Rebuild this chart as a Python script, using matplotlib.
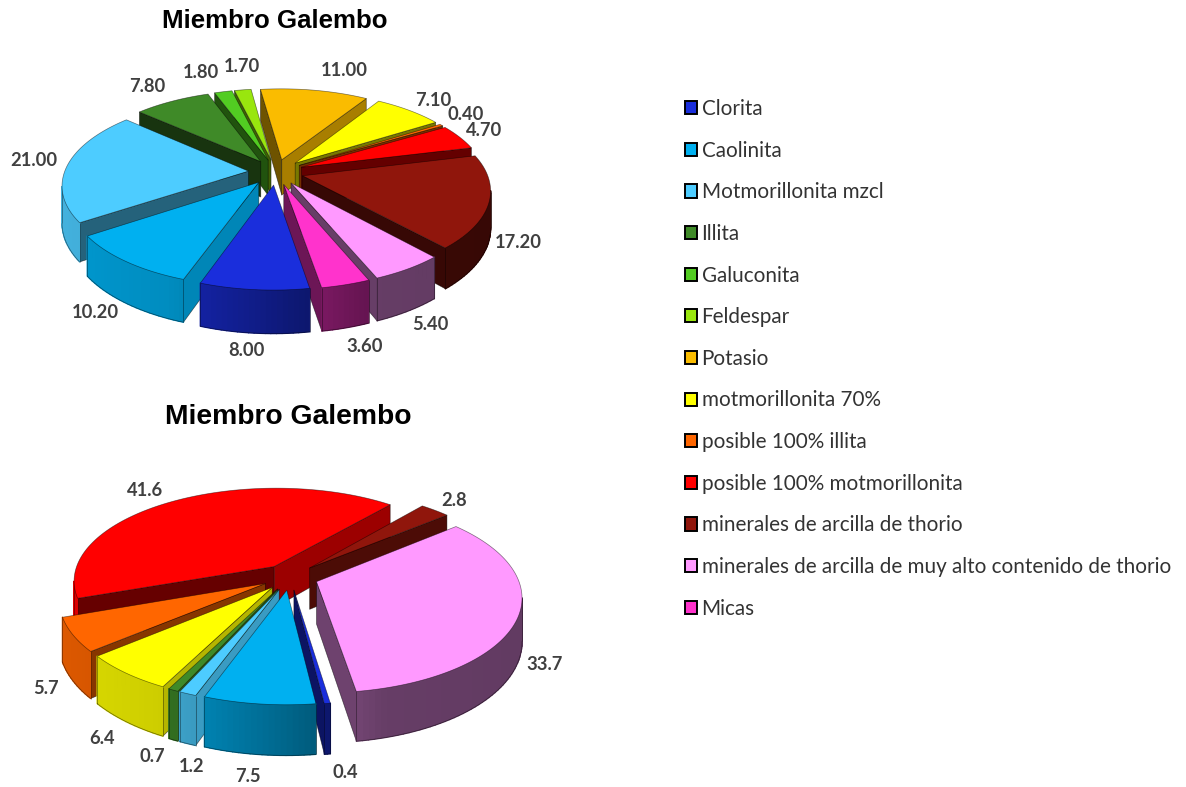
import numpy as np
import matplotlib
matplotlib.use("Agg")
import matplotlib.pyplot as plt
from matplotlib.patches import Polygon, Patch
from matplotlib.colors import to_rgb

# ---- data ----
minerals = ["Clorita", "Caolinita", "Motmorillonita mzcl", "Illita", "Galuconita",
            "Feldespar", "Potasio", "motmorillonita 70%", "posible 100% illita",
            "posible 100% motmorillonita", "minerales de arcilla de thorio",
            "minerales de arcilla de muy alto contenido de thorio", "Micas"]
colors = ["#1A2EDC", "#00B0F0", "#4DCCFF", "#3F8A28", "#52CC22", "#99E60E", "#FABC00",
          "#FFFF00", "#FF6600", "#FF0000", "#90160C", "#FF99FF", "#FF33CC"]
upper_values = [8.00, 10.20, 21.00, 7.80, 1.80, 1.70, 11.00, 7.10, 0.40, 4.70, 17.20, 5.40, 3.60]
lower_values = [0.4, 7.5, 1.2, 0.7, 0, 0, 0, 6.4, 5.7, 41.6, 2.8, 33.7, 0]
title = "Miembro Galembo"

# ---- layout (pixels) ----
upper_geom = dict(cx=276, cy=172, rx=184, ry=85, depth=36, start=170.5, explode=0.15)
lower_geom = dict(cx=290, cy=577, rx=201, ry=93, depth=42, start=171.5, explode=0.14)
upper_label_xy = [(246, 350), (95, 313), (34, 161), (147, 86), (201, 72), (242, 67), (344, 71),
                  (433, 100), (466, 115), (484, 131), (518, 243), (430, 325), (365, 346)]
lower_label_xy = [(345, 773), (248, 776), (192, 766), (152, 757), None, None, None,
                  (102, 738), (46, 689), (145, 490), (454, 501), (545, 665), None]
PERSP = 0.15

fig = plt.figure(figsize=(11.86, 7.87), dpi=100)
ax = fig.add_axes([0, 0, 1, 1])
ax.set_xlim(0, 1186)
ax.set_ylim(787, 0)
ax.axis("off")


def wall_shade(px):
    return np.interp(px, [-1.2, -0.5, -0.1, 0.1, 0.4, 1.2], [0.88, 0.8, 0.62, 0.52, 0.4, 0.38])


def face_shade(normal_deg):
    return np.interp(normal_deg % 360, [90, 107, 128, 143, 159, 180, 225, 260, 270],
                     [0.85, 0.78, 0.63, 0.5, 0.4, 0.38, 0.38, 0.42, 0.5])


def shaded(color, f):
    return tuple(np.array(to_rgb(color)) * f)


def outline(points):
    ax.add_patch(Polygon(points, closed=False, fill=False, ec=(0, 0, 0, 0.5), lw=0.5))


def draw_pie(values, geom):
    cx, cy, rx, ry = geom["cx"], geom["cy"], geom["rx"], geom["ry"]
    D, e = geom["depth"], geom["explode"]

    def proj(X, Y, Z=0.0):
        s = 1.0 / (1.0 - PERSP * Y)
        return cx + rx * X * s, cy + (ry * Y + D * Z) * s

    vals = np.asarray(values, float)
    edges = geom["start"] + np.concatenate([[0], np.cumsum(vals)]) / vals.sum() * 360
    items = [(i, edges[i], edges[i + 1]) for i in range(len(vals)) if vals[i] > 0]
    items.sort(key=lambda t: -np.cos(np.radians((t[1] + t[2]) / 2)))

    for i, a, b in items:
        col = colors[i]
        mid = np.radians((a + b) / 2)
        ox, oy = e * np.sin(mid), -e * np.cos(mid)
        th = np.radians(np.linspace(a, b, max(3, int((b - a) / 1.5) + 2)))
        X, Y = ox + np.sin(th), oy - np.cos(th)

        # radial cut faces
        for idx, normal in ((0, a - 90), (-1, b + 90)):
            if -np.cos(np.radians(normal)) > 0:
                p = [proj(ox, oy), proj(X[idx], Y[idx]), proj(X[idx], Y[idx], 1), proj(ox, oy, 1)]
                ax.add_patch(Polygon(p, closed=True, fc=shaded(col, face_shade(normal)),
                                     ec=(0, 0, 0, 0.55), lw=0.5, joinstyle="round"))
        # outer wall, shaded across the pie
        visible = [k for k in range(len(th) - 1)
                   if proj(X[k + 1], Y[k + 1])[0] < proj(X[k], Y[k])[0]]
        for k in visible:
            f = shaded(col, wall_shade((X[k] + X[k + 1]) / 2))
            q = [proj(X[k], Y[k]), proj(X[k + 1], Y[k + 1]),
                 proj(X[k + 1], Y[k + 1], 1), proj(X[k], Y[k], 1)]
            ax.add_patch(Polygon(q, closed=True, fc=f, ec=f, lw=1.0, joinstyle="round"))
        if visible:
            # thin outline round the visible wall
            ks = visible + [visible[-1] + 1]
            outline([proj(X[k], Y[k], 1) for k in ks])
            for k in (ks[0], ks[-1]):
                outline([proj(X[k], Y[k]), proj(X[k], Y[k], 1)])
        # top surface
        top = [proj(ox, oy)] + [proj(x, y) for x, y in zip(X, Y)]
        ax.add_patch(Polygon(top, closed=True, fc=col, ec=(0, 0, 0, 0.5), lw=0.5, joinstyle="round"))


draw_pie(upper_values, upper_geom)
draw_pie(lower_values, lower_geom)

label_style = dict(family="Lato", fontweight="bold", fontsize=13.2, color="#404040",
                   ha="center", va="center")
for v, xy in zip(upper_values, upper_label_xy):
    ax.text(xy[0], xy[1], f"{v:.2f}", **label_style)
for v, xy in zip(lower_values, lower_label_xy):
    if xy is not None:
        ax.text(xy[0], xy[1], f"{v:.1f}", **label_style)

ax.text(275, 21, title, family="Liberation Sans", fontweight="bold", fontsize=18.6,
        color="black", ha="center", va="center")
ax.text(288, 417, title, family="Liberation Sans", fontweight="bold", fontsize=20.3,
        color="black", ha="center", va="center")

handles = [Patch(facecolor=c, edgecolor="black", linewidth=1.4, label=m)
           for c, m in zip(colors, minerals)]
ax.legend(handles=handles, loc="upper left", bbox_to_anchor=(685 / 1186, 1 - 99 / 787),
          frameon=False, prop=dict(family="Lato", size=14.9), labelcolor="#333333",
          handlelength=0.6, handleheight=0.6, handletextpad=0.2,
          labelspacing=1.045, borderpad=0, borderaxespad=0)

fig.savefig("out.png", dpi=100, facecolor="white")
